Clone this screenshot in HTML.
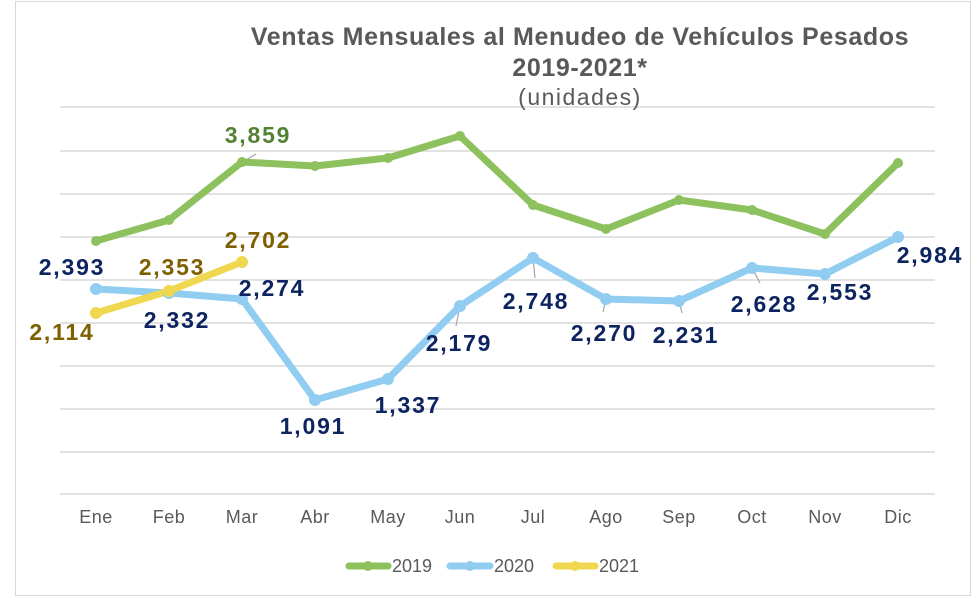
<!DOCTYPE html>
<html><head><meta charset="utf-8"><style>
body{margin:0;background:#fff;}
svg text{font-family:"Liberation Sans",sans-serif;}
</style></head><body>
<svg width="979" height="604" viewBox="0 0 979 604" xmlns="http://www.w3.org/2000/svg">
<rect x="15.5" y="1.5" width="955" height="594" fill="#fff" stroke="#d9d9d9"/>
<g stroke="#d9d9d9" stroke-width="1.5">
<line x1="60" x2="935" y1="107" y2="107"/><line x1="60" x2="935" y1="151" y2="151"/>
<line x1="60" x2="935" y1="194" y2="194"/><line x1="60" x2="935" y1="237" y2="237"/>
<line x1="60" x2="935" y1="280" y2="280"/><line x1="60" x2="935" y1="323" y2="323"/>
<line x1="60" x2="935" y1="366" y2="366"/><line x1="60" x2="935" y1="409" y2="409"/>
<line x1="60" x2="935" y1="452" y2="452"/><line x1="60" x2="935" y1="494" y2="494"/>
</g>
<g font-weight="bold" fill="#595959" text-anchor="middle" font-size="25" letter-spacing="0.6">
<text x="580" y="45">Ventas Mensuales al Menudeo de Vehículos Pesados</text>
<text x="580" y="76">2019-2021*</text>
</g>
<text x="580" y="105" text-anchor="middle" font-size="23" letter-spacing="1.5" fill="#595959">(unidades)</text>
<g stroke="#a6a6a6" stroke-width="1.2">
<line x1="246" y1="160" x2="256" y2="154"/>
<line x1="533" y1="258" x2="535" y2="278"/>
<line x1="460" y1="306" x2="456" y2="326"/>
<line x1="606" y1="299" x2="603" y2="312"/>
<line x1="679" y1="301" x2="682" y2="313"/>
<line x1="752" y1="268" x2="760" y2="283"/>
</g>
<g fill="none" stroke-width="7" stroke-linejoin="round" stroke-linecap="round">
<polyline stroke="#8dc15d" points="96,241 169,220 242,162 315,166 388,158 460,136 533,205 606,229 679,200 752,210 825,234 898,163"/>
<polyline stroke="#91cdf0" points="96,289 169,293 242,299 315,400 388,379 460,306 533,258 606,299 679,301 752,268 825,274 898,237"/>
<polyline stroke="#efd750" points="96,313 169,291 242,262"/>
</g>
<g fill="#8dc15d"><circle cx="96" cy="241" r="5"/><circle cx="169" cy="220" r="5"/><circle cx="242" cy="162" r="5"/><circle cx="315" cy="166" r="5"/><circle cx="388" cy="158" r="5"/><circle cx="460" cy="136" r="5"/><circle cx="533" cy="205" r="5"/><circle cx="606" cy="229" r="5"/><circle cx="679" cy="200" r="5"/><circle cx="752" cy="210" r="5"/><circle cx="825" cy="234" r="5"/><circle cx="898" cy="163" r="5"/></g>
<g fill="#91cdf0"><circle cx="96" cy="289" r="6"/><circle cx="169" cy="293" r="6"/><circle cx="242" cy="299" r="6"/><circle cx="315" cy="400" r="6"/><circle cx="388" cy="379" r="6"/><circle cx="460" cy="306" r="6"/><circle cx="533" cy="258" r="6"/><circle cx="606" cy="299" r="6"/><circle cx="679" cy="301" r="6"/><circle cx="752" cy="268" r="6"/><circle cx="825" cy="274" r="6"/><circle cx="898" cy="237" r="6"/></g>
<g fill="#efd750"><circle cx="96" cy="313" r="6"/><circle cx="169" cy="291" r="6"/><circle cx="242" cy="262" r="6"/></g>
<g font-weight="bold" font-size="23" letter-spacing="1.8" text-anchor="middle">
<text x="258" y="143" fill="#548235">3,859</text>
<text x="258" y="248" fill="#7f6000">2,702</text>
<text x="172" y="275" fill="#7f6000">2,353</text>
<text x="62" y="340" fill="#7f6000">2,114</text>
<g fill="#0d2460">
<text x="72" y="275">2,393</text>
<text x="177" y="328">2,332</text>
<text x="272" y="296">2,274</text>
<text x="313" y="434">1,091</text>
<text x="408" y="413">1,337</text>
<text x="459" y="351">2,179</text>
<text x="536" y="309">2,748</text>
<text x="604" y="341">2,270</text>
<text x="686" y="343">2,231</text>
<text x="764" y="312">2,628</text>
<text x="840" y="300">2,553</text>
<text x="930" y="263">2,984</text>
</g></g>
<g font-size="18" fill="#595959" text-anchor="middle" letter-spacing="0.5">
<text x="96" y="523">Ene</text><text x="169" y="523">Feb</text><text x="242" y="523">Mar</text><text x="315" y="523">Abr</text><text x="388" y="523">May</text><text x="460" y="523">Jun</text><text x="533" y="523">Jul</text><text x="606" y="523">Ago</text><text x="679" y="523">Sep</text><text x="752" y="523">Oct</text><text x="825" y="523">Nov</text><text x="898" y="523">Dic</text>
</g>
<g stroke-width="7" stroke-linecap="round">
<line x1="349" y1="566" x2="388" y2="566" stroke="#8dc15d"/><circle cx="368" cy="566" r="5" fill="#8dc15d"/>
<line x1="450" y1="566" x2="490" y2="566" stroke="#91cdf0"/><circle cx="470" cy="566" r="5" fill="#91cdf0"/>
<line x1="556" y1="566" x2="595" y2="566" stroke="#efd750"/><circle cx="575" cy="566" r="5" fill="#efd750"/>
</g>
<g font-size="18" fill="#595959">
<text x="392" y="572">2019</text><text x="494" y="572">2020</text><text x="599" y="572">2021</text>
</g>
</svg>
</body></html>
